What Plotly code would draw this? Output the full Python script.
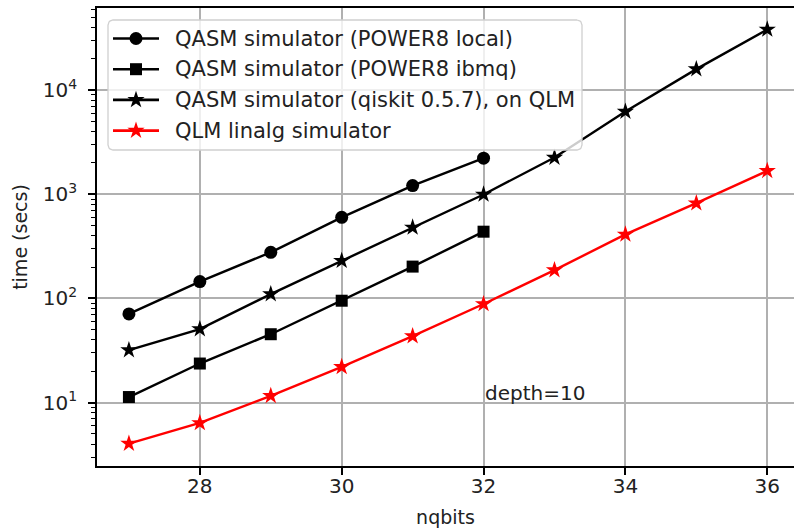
import numpy as np
import plotly.graph_objects as go

# qubit counts
nq_local = [27, 28, 29, 30, 31, 32]
nq_qlm = [27, 28, 29, 30, 31, 32, 33, 34, 35, 36]

# wall-clock times in seconds
t_power8_local = [71, 145, 277, 600, 1210, 2220]
t_power8_ibmq = [11.3, 23.7, 45.3, 95, 202, 437]
t_qiskit_qlm = [31.9, 50.8, 110, 230, 480, 995, 2250, 6220, 15900, 38200]
t_qlm_linalg = [4.04, 6.37, 11.6, 22, 43.4, 88.4, 187, 411, 820, 1678]

labels = [
    "QASM simulator (POWER8 local)",
    "QASM simulator (POWER8 ibmq)",
    "QASM simulator (qiskit 0.5.7), on QLM",
    "QLM linalg simulator",
]

# decade ticks on the time axis
y_tickvals = [10, 100, 1000, 10000]
y_ticktext = ["10<sup>1</sup>", "10<sup>2</sup>", "10<sup>3</sup>", "10<sup>4</sup>"]
x_tickvals = [28, 30, 32, 34, 36]

FONT = "DejaVu Sans"
FS = 20
W, H = 794, 528
M_L, M_R, M_T, M_B = 97, 0, 8, 62

fig = go.Figure()
series = [
    (nq_local, t_power8_local, "circle", 13, "black"),
    (nq_local, t_power8_ibmq, "square", 12, "black"),
    (nq_qlm, t_qiskit_qlm, "star", 13, "black"),
    (nq_qlm, t_qlm_linalg, "star", 13, "#ff0000"),
]
for (x, y, sym, size, col), name in zip(series, labels):
    fig.add_trace(go.Scatter(
        x=x, y=y, mode="lines+markers", name=name, showlegend=False,
        line=dict(color=col, width=2.4),
        marker=dict(symbol=sym, size=size, color=col, line=dict(width=0)),
    ))

fig.add_annotation(
    x=32, y=1, xref="x", yref="y", text="depth=10", showarrow=False,
    xanchor="left", yanchor="bottom", xshift=-1, yshift=-4,
    font=dict(family=FONT, size=FS, color="#222"),
)

# ---- legend box drawn on a pixel-space overlay (x2/y2) ----
LEG_LEFT, LEG_RIGHT, LEG_TOP, LEG_BOTTOM = 108, 582, 20, 150
ROW0, ROW_STEP = 38.5, 30.7
HANDLE_X0, HANDLE_X1, TEXT_X = 113, 159, 173
RADIUS = 5


def rounded_box(x0, x1, y0, y1, r):
    t = np.linspace(0, np.pi / 2, 8)
    xs, ys = [], []
    corners = [(x1 - r, y0 + r, -np.pi / 2), (x1 - r, y1 - r, 0),
               (x0 + r, y1 - r, np.pi / 2), (x0 + r, y0 + r, np.pi)]
    for cx, cy, a0 in corners:
        xs += list(cx + r * np.cos(a0 + t))
        ys += list(cy + r * np.sin(a0 + t))
    xs.append(xs[0])
    ys.append(ys[0])
    return xs, ys


bx, by = rounded_box(LEG_LEFT, LEG_RIGHT, LEG_TOP, LEG_BOTTOM, RADIUS)
fig.add_trace(go.Scatter(
    x=bx, y=by, xaxis="x2", yaxis="y2", mode="lines", fill="toself",
    fillcolor="rgba(255,255,255,0.8)", line=dict(color="#d0d0d0", width=1.3),
    showlegend=False, hoverinfo="skip",
))
for i, ((_, _, sym, size, col), name) in enumerate(zip(series, labels)):
    ry = ROW0 + i * ROW_STEP
    fig.add_trace(go.Scatter(
        x=[HANDLE_X0, HANDLE_X1], y=[ry, ry], xaxis="x2", yaxis="y2",
        mode="lines", line=dict(color=col, width=2.6),
        showlegend=False, hoverinfo="skip",
    ))
    fig.add_trace(go.Scatter(
        x=[(HANDLE_X0 + HANDLE_X1) / 2], y=[ry], xaxis="x2", yaxis="y2",
        mode="markers", marker=dict(symbol=sym, size=size, color=col, line=dict(width=0)),
        showlegend=False, hoverinfo="skip",
    ))
    fig.add_annotation(
        x=TEXT_X, y=ry, xref="x2", yref="y2", text=name, showarrow=False,
        xanchor="left", yanchor="middle",
        font=dict(family=FONT, size=21, color="#222"),
    )

minor_vals = [m * 10 ** e for e in range(0, 5) for m in range(2, 10)]

fig.update_layout(
    width=W, height=H,
    margin=dict(l=M_L, r=M_R, t=M_T, b=M_B, autoexpand=False),
    paper_bgcolor="white", plot_bgcolor="white",
    font=dict(family=FONT, size=FS, color="#222"),
    showlegend=False,
    xaxis=dict(
        range=[26.55, 36.377], tickvals=x_tickvals, automargin=False,
        showgrid=True, gridcolor="#b0b0b0", gridwidth=1.6,
        showline=True, linecolor="black", linewidth=1.7, mirror=True,
        ticks="outside", ticklen=7, tickwidth=1.7, tickcolor="black",
        zeroline=False, tickfont=dict(family=FONT, size=FS),
        ticklabelstandoff=-6,
        title=dict(text="nqbits", standoff=16, font=dict(family=FONT, size=19)),
    ),
    yaxis=dict(
        type="log", range=[0.391, 4.788], automargin=False,
        tickvals=y_tickvals, ticktext=y_ticktext,
        showgrid=True, gridcolor="#b0b0b0", gridwidth=1.6,
        showline=True, linecolor="black", linewidth=1.7, mirror=False,
        ticks="outside", ticklen=7, tickwidth=1.7, tickcolor="black",
        zeroline=False, tickfont=dict(family=FONT, size=FS),
        ticklabelstandoff=7,
        minor=dict(tickvals=minor_vals, ticks="outside", ticklen=4,
                   tickwidth=1.2, tickcolor="black", showgrid=False),
        title=dict(text="time (secs)", standoff=10, font=dict(family=FONT, size=19)),
    ),
    xaxis2=dict(overlaying="x", anchor="y2", range=[M_L, W - M_R], visible=False,
                fixedrange=True),
    yaxis2=dict(overlaying="y", anchor="x2", range=[H - M_B, M_T], visible=False,
                fixedrange=True),
)

fig.write_html("out.html")
